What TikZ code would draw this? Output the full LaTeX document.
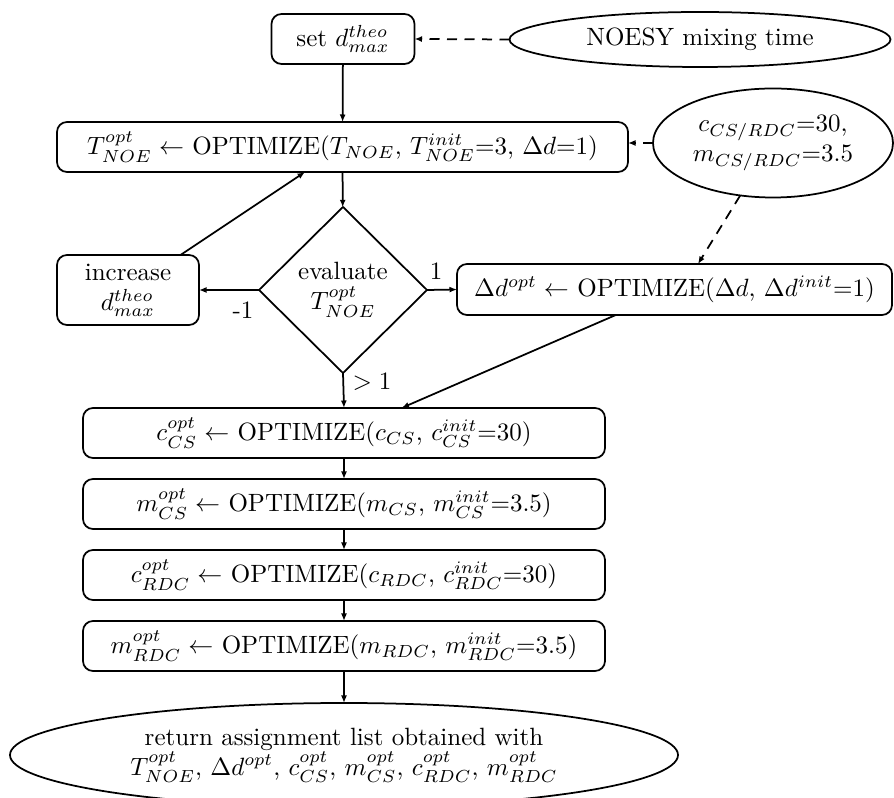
\documentclass[tikz,border=0pt]{standalone}
\usetikzlibrary{shapes.geometric,arrows.meta,calc}
\begin{document}
\begin{tikzpicture}[x=0.4pt,y=-0.4pt,
  every node/.style={inner sep=0pt, outer sep=0pt},
  rbox/.style={draw, line width=0.7pt, rounded corners=4pt, minimum height=20pt, align=center},
  ell/.style={draw, line width=0.7pt, ellipse, align=center},
  dia/.style={draw, line width=0.7pt, diamond, align=center},
  conn/.style={line width=0.7pt, -{Latex[length=3pt,width=2.4pt]}},
  dconn/.style={conn, dash pattern=on 4pt off 3pt},
  lbl/.style={font=\normalsize}
]
\useasboundingbox (0,0) rectangle (894,798);

\node[rbox, minimum width=57.2pt] (set) at (343,39) {set $d^{theo}_{max}$};
\node[ell, minimum width=152.4pt, minimum height=22pt] (noesy) at (700,39.5) {NOESY mixing time};
\node[rbox, minimum width=228.4pt] (T) at (342.5,147) {$T^{opt}_{NOE} \leftarrow$ OPTIMIZE($T_{NOE}$, $T^{init}_{NOE}{=}3$, $\Delta d{=}1$)};
\node[ell, minimum width=96pt, minimum height=43.6pt] (cm) at (773,143) {$c_{CS/RDC}{=}30$,\\ $m_{CS/RDC}{=}3.5$};
\node[dia, minimum width=67.2pt, minimum height=66.4pt] (eval) at (343,290) {evaluate\\ $T^{opt}_{NOE}$};
\node[rbox, minimum width=56.8pt, minimum height=28pt] (inc) at (128,290) {increase\\ $d^{theo}_{max}$};
\node[rbox, minimum width=174pt, minimum height=20.4pt] (dd) at (674.5,289.5) {$\Delta d^{opt} \leftarrow$ OPTIMIZE($\Delta d$, $\Delta d^{init}{=}1$)};
\node[rbox, minimum width=208.8pt] (ccs) at (344,433) {$c^{opt}_{CS} \leftarrow$ OPTIMIZE($c_{CS}$, $c^{init}_{CS}{=}30$)};
\node[rbox, minimum width=208.8pt] (mcs) at (344,504) {$m^{opt}_{CS} \leftarrow$ OPTIMIZE($m_{CS}$, $m^{init}_{CS}{=}3.5$)};
\node[rbox, minimum width=208.8pt] (crdc) at (344,575) {$c^{opt}_{RDC} \leftarrow$ OPTIMIZE($c_{RDC}$, $c^{init}_{RDC}{=}30$)};
\node[rbox, minimum width=208.8pt] (mrdc) at (344,646) {$m^{opt}_{RDC} \leftarrow$ OPTIMIZE($m_{RDC}$, $m^{init}_{RDC}{=}3.5$)};
\node[ell, minimum width=267.2pt, minimum height=41.6pt] (ret) at (344,755) {return assignment list obtained with\\ $T^{opt}_{NOE}$, $\Delta d^{opt}$, $c^{opt}_{CS}$, $m^{opt}_{CS}$, $c^{opt}_{RDC}$, $m^{opt}_{RDC}$};

\draw[dconn] (noesy.west) -- (set.east);
\draw[conn] (set) -- (T);
\draw[dconn] (cm.west) -- (cm.west -| T.east);
\draw[conn] (T) -- (eval);
\draw[conn] (eval.west) -- (inc.east);
\draw[conn] (eval.east) -- (dd.west);
\draw[conn] (inc) -- (T);
\draw[dconn] (cm.238) -- ([xshift=9.4pt]dd.north);
\draw[conn] (eval.south) -- (ccs.north);
\draw[conn] (dd) -- (ccs);
\draw[conn] (ccs) -- (mcs);
\draw[conn] (mcs) -- (crdc);
\draw[conn] (crdc) -- (mrdc);
\draw[conn] (mrdc) -- (ret);

\node[lbl] (lm1) at (243,310) {-1};
\node[lbl] (l1) at (436,271) {1};
\node[lbl] (lg1) at (372,382) {$>1$};
\end{tikzpicture}
\end{document}
